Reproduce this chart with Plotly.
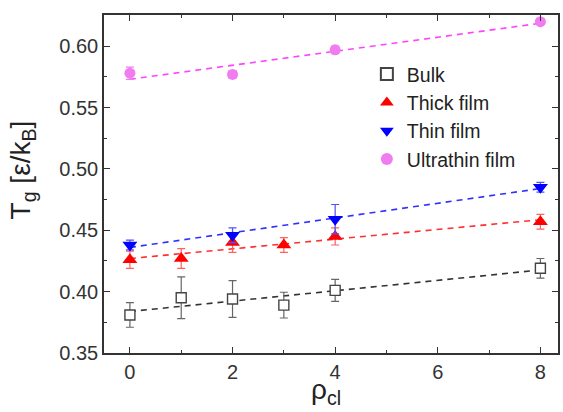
import numpy as np
import plotly.graph_objects as go

# ---- data ----
rho_bulk = [0, 1, 2, 3, 4, 8]
tg_bulk = [0.381, 0.395, 0.394, 0.389, 0.401, 0.419]
err_bulk = [0.010, 0.017, 0.015, 0.0105, 0.009, 0.008]

rho_thick = [0, 1, 2, 3, 4, 8]
tg_thick = [0.426, 0.427, 0.440, 0.438, 0.445, 0.457]
err_thick = [0.007, 0.008, 0.008, 0.006, 0.007, 0.006]

rho_thin = [0, 2, 4, 8]
tg_thin = [0.438, 0.446, 0.459, 0.485]
err_thin = [0.004, 0.006, 0.012, 0.004]

rho_ultra = [0, 2, 4, 8]
tg_ultra = [0.578, 0.577, 0.597, 0.620]
err_ultra = [0.005, 0.003, 0.003, 0.002]

x_ticks = [0, 2, 4, 6, 8]
y_ticks = [0.35, 0.40, 0.45, 0.50, 0.55, 0.60]

series = [
    dict(name="Bulk", x=rho_bulk, y=tg_bulk, e=err_bulk,
         marker=dict(symbol="square", size=10, color="white", line=dict(color="#444", width=1.4)),
         ecolor="#666", lcolor="#333"),
    dict(name="Thick film", x=rho_thick, y=tg_thick, e=err_thick,
         marker=dict(symbol="triangle-up", size=13, color="#ff0000", line=dict(width=0)),
         ecolor="#ff6060", lcolor="#ff3030"),
    dict(name="Thin film", x=rho_thin, y=tg_thin, e=err_thin,
         marker=dict(symbol="triangle-down", size=13, color="#0000ff", line=dict(width=0)),
         ecolor="#5050ff", lcolor="#3030ff"),
    dict(name="Ultrathin film", x=rho_ultra, y=tg_ultra, e=err_ultra,
         marker=dict(symbol="circle", size=11, color="#f07cf0", line=dict(width=0)),
         ecolor="#f07cf0", lcolor="#ff44ff"),
]

fig = go.Figure()

# fit lines (linear regression of each series)
for s in series:
    k, b = np.polyfit(s["x"], s["y"], 1)
    xs = np.array([min(s["x"]), max(s["x"])], dtype=float)
    fig.add_trace(go.Scatter(x=xs, y=k * xs + b, mode="lines", showlegend=False,
                             line=dict(color=s["lcolor"], width=1.6, dash="6px,5px"),
                             hoverinfo="skip"))

for s in series:
    fig.add_trace(go.Scatter(
        x=s["x"], y=s["y"], mode="markers", name=s["name"], marker=s["marker"],
        error_y=dict(type="data", array=s["e"], visible=True, color=s["ecolor"],
                     thickness=1.2, width=4)))

FONT = "Liberation Sans, Arial, sans-serif"
axis_common = dict(showline=True, linecolor="#333", linewidth=1.5, mirror="ticks",
                   ticks="inside", ticklen=6, tickwidth=1.3, tickcolor="#333",
                   showgrid=False, zeroline=False,
                   tickfont=dict(family=FONT, size=20, color="#333"))

fig.update_layout(
    width=563, height=412,
    margin=dict(l=104, r=3, t=15, b=59),
    paper_bgcolor="white", plot_bgcolor="white",
    font=dict(family=FONT, color="#222"),
    showlegend=True,
    legend=dict(x=0.579, y=0.882, xanchor="left", yanchor="top",
                bgcolor="rgba(0,0,0,0)", font=dict(family=FONT, size=19.5, color="#222"),
                itemsizing="constant", tracegroupgap=0),
    xaxis=dict(range=[-0.505, 8.343], tickvals=x_ticks,
               ticktext=[str(v) for v in x_ticks],
               minor=dict(dtick=1, ticks="inside", ticklen=3, tickcolor="#333", showgrid=False),
               **axis_common),
    yaxis=dict(range=[0.35, 0.6254], tickvals=y_ticks,
               ticktext=[f"{v:.2f}" for v in y_ticks],
               minor=dict(dtick=0.025, ticks="inside", ticklen=3, tickcolor="#333", showgrid=False),
               **axis_common),
    annotations=[
        dict(text="T<sub>g</sub> [ε/k<sub>B</sub>]", textangle=-90,
             xref="paper", yref="paper", x=-0.180, y=0.541,
             xanchor="center", yanchor="middle", showarrow=False,
             font=dict(family=FONT, size=28, color="#222")),
        dict(text="ρ<sub>cl</sub>",
             xref="paper", yref="paper", x=0.488, y=-0.1716,
             xanchor="center", yanchor="bottom", showarrow=False,
             font=dict(family=FONT, size=28, color="#222")),
    ],
)

fig.write_html("out.html")
